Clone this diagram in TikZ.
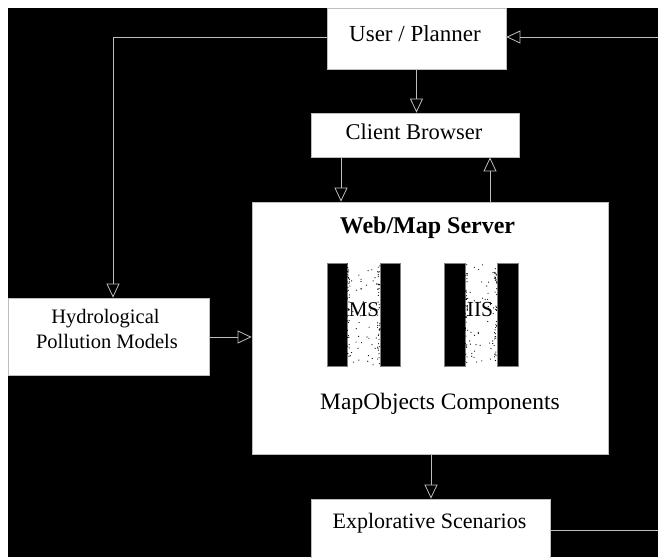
\documentclass[tikz,border=0pt]{standalone}
\usepackage{fontspec}
\setmainfont{Liberation Serif}
\usetikzlibrary{arrows.meta}
\definecolor{linegray}{HTML}{BDBDBD}
\tikzset{
  box/.style={draw=linegray, line width=0.7pt, fill=white, inner sep=0pt},
  conn/.style={draw=linegray, line width=0.9pt},
  tipd/.style={-{Triangle[open, length=14pt, width=13pt, line width=0.8pt]}},
  txt/.style={anchor=base, inner sep=0pt, text=black},
  bar/.style={fill=black, draw=gray, line width=0.4pt}
}
\newcommand{\fs}[1]{\fontsize{#1}{#1}\selectfont}
\begin{document}
\begin{tikzpicture}[x=1pt, y=-1pt]
\useasboundingbox (0,0) rectangle (658,557);
\fill[white] (0,0) rectangle (658,557);
\fill[black] (8,8) rectangle (658,557);

% boxes
\node[box, minimum width=179pt, minimum height=61pt] (user) at (416.5,38.5) {};
\node[box, minimum width=208pt, minimum height=44pt] (client) at (415,135) {};
\node[box, minimum width=356pt, minimum height=252pt] (web) at (430,328) {};
\node[box, minimum width=201pt, minimum height=77pt] (hydro) at (108.5,336.5) {};
\node[box, minimum width=239pt, minimum height=70pt] (expl) at (430.5,534) {};

% texts
\node[txt] (tuser) at (415,41) {\fs{23}User / Planner};
\node[txt] (tclient) at (414,139) {\fs{22.5}Client Browser};
\node[txt] (tweb) at (427.5,233) {\fs{24}\bfseries Web/Map Server};
\node[txt] (thyd1) at (105.5,323) {\fs{20.5}Hydrological};
\node[txt] (thyd2) at (107,348) {\fs{20.5}Pollution Models};
\node[txt] (texpl) at (429.5,528) {\fs{22}Explorative Scenarios};
\node[txt] (tmo) at (440,409) {\fs{23.5}MapObjects Components};

% component bars
\pgfmathsetseed{7}
\foreach \xa/\xb/\xc/\xd/\nm in {327/347/380/400/MS, 444/465/497/518/IIS}{
  \draw[bar] (\xa,263) rectangle (\xb,366);
  \draw[bar] (\xc,263) rectangle (\xd,366);
  \foreach \i in {1,...,45}{
    \pgfmathsetmacro\rx{\xb+1+(\xc-\xb-2)*rnd}
    \pgfmathsetmacro\ry{264+101*rnd}
    \fill[black] (\rx,\ry) circle (0.6);
  }
  \foreach \i in {1,...,40}{
    \pgfmathsetmacro\ry{264+101*rnd}
    \pgfmathsetmacro\rx{\xb+2.5*rnd}
    \fill[black] (\rx,\ry) circle (0.6);
    \pgfmathsetmacro\ry{264+101*rnd}
    \pgfmathsetmacro\rx{\xc-2.5*rnd}
    \fill[black] (\rx,\ry) circle (0.6);
  }
}
\node[txt] (tms) at (364,316) {\fs{21}MS};
\node[txt] (tiis) at (480,316) {\fs{21.5}IIS};

% helper coordinates
\coordinate (cornerL) at (113,37);
\coordinate (edgeTop) at (658,37);
\coordinate (edgeBot) at (658,530);
\coordinate (xa) at (341,0);
\coordinate (xb) at (490,0);
\coordinate (xc) at (431,0);
\coordinate (yh) at (0,337);
\coordinate (yu) at (0,37);
\coordinate (ye) at (0,530);

% connectors
\draw[conn, tipd] (user.west |- yu) -- (cornerL) -- (hydro.north -| cornerL);
\draw[conn, tipd] (edgeTop) -- (user.east |- yu);
\draw[conn, tipd] (user.south) -- (client.north -| user.south);
\draw[conn, tipd] (client.south -| xa) -- (web.north -| xa);
\draw[conn, tipd] (web.north -| xb) -- (client.south -| xb);
\draw[conn, tipd] (hydro.east |- yh) -- (web.west |- yh);
\draw[conn, tipd] (web.south -| xc) -- (expl.north -| xc);
\draw[conn] (expl.east |- ye) -- (edgeBot);
\end{tikzpicture}
\end{document}
